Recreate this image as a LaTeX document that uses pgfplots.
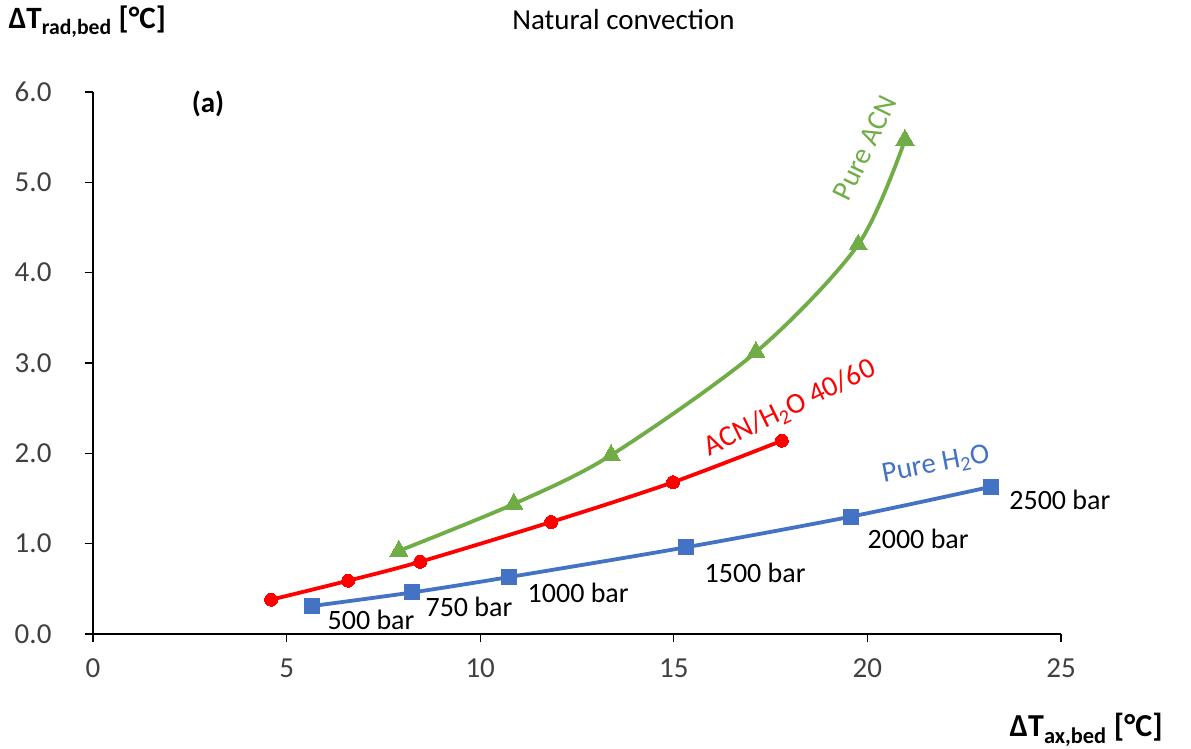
\documentclass[border=0pt]{standalone}
\usepackage{pgfplots}
\pgfplotsset{compat=1.18}
\usepackage{fontspec}
\setmainfont{Carlito}
\definecolor{cblue}{HTML}{4472C4}
\definecolor{cred}{HTML}{FF0000}
\definecolor{cgreen}{HTML}{70AD47}
\definecolor{tickgray}{HTML}{404040}
\begin{document}
\begin{tikzpicture}
\useasboundingbox (-93pt,-114pt) rectangle (1098pt,634pt);
\begin{axis}[
  at={(0,0)}, anchor=south west,
  scale only axis, width=968pt, height=542pt,
  xmin=0, xmax=25, ymin=0, ymax=6,
  xtick={0,5,...,25}, ytick={0,1,...,6},
  axis lines=left, axis line style={-, line width=1.2pt, black},
  tick style={line width=1.2pt, black},
  tick align=outside, major tick length=8pt,
  yticklabel style={/pgf/number format/fixed, /pgf/number format/fixed zerofill, /pgf/number format/precision=1},
  /pgf/number format/assume math mode=true,
  ticklabel style={font=\fontsize{29}{34}\selectfont, text=tickgray},
  xticklabel style={yshift=-13pt},
  yticklabel style={xshift=-30pt},
  clip=false,
]
\addplot[cblue, line width=3.8pt, smooth, tension=0.5, mark=square*, mark size=7.5pt, mark options={solid, fill=cblue, draw=cblue, line width=0pt}]
 coordinates {(5.66,0.31) (8.24,0.46) (10.74,0.63) (15.31,0.96) (19.58,1.30) (23.19,1.63)};
\addplot[cred, line width=3.8pt, smooth, tension=0.5, mark=*, mark size=6.5pt, mark options={solid, fill=cred, draw=cred, line width=0pt}]
 coordinates {(4.60,0.38) (6.59,0.59) (8.45,0.80) (11.83,1.24) (14.98,1.68) (17.79,2.14)};
\addplot[cgreen, line width=3.8pt, smooth, tension=0.5, mark=triangle*, mark size=10.5pt, mark options={solid, fill=cgreen, draw=cgreen, line width=0pt}]
 coordinates {(7.90,0.92) (10.87,1.44) (13.38,1.98) (17.12,3.12) (19.76,4.31) (20.97,5.47)};

\node[font=\fontsize{29}{34}\selectfont] at (axis cs:13.70,6.80) {Natural convection};
\node[font=\fontsize{31}{36}\selectfont\bfseries] at (axis cs:-0.15,6.78) {ΔT\textsubscript{rad,bed} [°C]};
\node[font=\fontsize{32}{37}\selectfont\bfseries] at (axis cs:25.65,-1.06) {ΔT\textsubscript{ax,bed} [°C]};
\node[font=\fontsize{29}{34}\selectfont\bfseries] at (axis cs:2.97,5.87) {(a)};
\node[font=\fontsize{29}{34}\selectfont, text=cgreen, rotate=64] at (axis cs:19.94,5.38) {Pure ACN};
\node[font=\fontsize{29}{34}\selectfont, text=cred, rotate=26] at (axis cs:18.0,2.50) {ACN/H\textsubscript{2}O 40/60};
\node[font=\fontsize{29}{34}\selectfont, text=cblue, rotate=11] at (axis cs:21.77,1.87) {Pure H\textsubscript{2}O};
\begin{scope}[every node/.style={font=\fontsize{28}{33}\selectfont}]
\node at (axis cs:7.18,0.155) {500 bar};
\node at (axis cs:9.71,0.30) {750 bar};
\node at (axis cs:12.53,0.45) {1000 bar};
\node at (axis cs:17.10,0.675) {1500 bar};
\node at (axis cs:21.31,1.05) {2000 bar};
\node at (axis cs:24.97,1.48) {2500 bar};
\end{scope}
\end{axis}
\end{tikzpicture}
\end{document}
